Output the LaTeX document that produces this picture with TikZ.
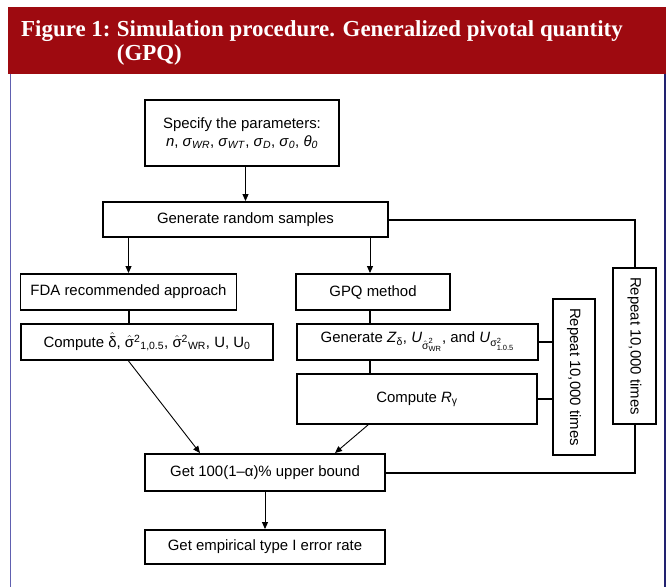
\documentclass[tikz,border=0pt]{standalone}
\usepackage{amsmath}
\usepackage{fontspec}
\setmainfont{Liberation Sans}
\newfontfamily\titlefont{Liberation Serif}
\usetikzlibrary{arrows.meta}
\definecolor{headred}{RGB}{158,10,16}
\definecolor{frameblue}{RGB}{96,96,176}
\definecolor{framenavy}{RGB}{34,34,112}
\newcommand{\boxfont}{\fontsize{15}{18}\selectfont}
\newcommand{\headfont}{\titlefont\bfseries\fontsize{23}{24}\selectfont}
\newcommand{\hatg}[1]{\ensuremath{\hat{\text{#1}}}}
\tikzset{
  box/.style 2 args={draw, line width=1.9bp, minimum width=#1bp, minimum height=#2bp, inner sep=0pt, font=\boxfont},
  link/.style={line width=2bp},
  arr/.style={->, line width=0.9bp},
  head/.style={text=white, inner sep=0pt, anchor=base west, font=\headfont}
}
\begin{document}
\begin{tikzpicture}[x=1bp, y=-1bp, >={Triangle[length=7bp,width=6bp]}, line join=miter]
\useasboundingbox (0,0) rectangle (669,587);
% header and frame
\fill[headred] (8,7) rectangle (666,74);
\draw[frameblue, line width=1.6bp] (10.5,74) -- (10.5,587);
\draw[framenavy, line width=1.6bp] (665,74) -- (665,587);
\node[head] (fignum) at (21,37) {Figure 1:};
\node[head] (figtitle) at ([xshift=6bp]fignum.base east) {Simulation procedure. Generalized pivotal quantity};
\node[head] (figtitle2) at ([yshift=-24bp]figtitle.base west) {(GPQ)};
% boxes
\node[box={194}{66}, align=center] (params) at (242,133) {Specify the parameters:\\
  \textit{n}, \textit{σ}\textsubscript{\textit{WR}}, \textit{σ}\textsubscript{\textit{WT}}, \textit{σ}\textsubscript{\textit{D}}, \textit{σ}\textsubscript{\textit{0}}, \textit{θ}\textsubscript{\textit{0}}};
\node[box={285}{35}] (gen) at (245.5,219.5) {Generate random samples};
\node[box={216}{36}] (fda) at (128.5,292) {FDA recommended approach};
\node[box={154}{36}] (gpq) at (373,292) {GPQ method};
\node[box={252}{36}] (comp) at (147,342) {Compute \hatg{δ}, \hatg{σ}\textsuperscript{2}\textsubscript{1,0.5}, \hatg{σ}\textsuperscript{2}\textsubscript{WR}, U, U\textsubscript{0}};
\node[box={241}{36}] (genz) at (417.5,342) {Generate \textit{Z}\textsubscript{δ}, \textit{U}$_{\hat{\text{σ}}^{\text{2}}_{\text{WR}}}$, and \textit{U}$_{\text{σ}^{\text{2}}_{\text{1.0.5}}}$};
\node[box={240}{50}] (compr) at (417,399) {Compute \textit{R}\textsubscript{γ}};
\node[box={156}{42}, rotate=-90] (rep1) at (574,377) {Repeat 10,000 times};
\node[box={156}{43}, rotate=-90] (rep2) at (634.5,346) {Repeat 10,000 times};
\node[box={240}{37}] (bound) at (265,472.5) {Get 100(1–α)\% upper bound};
\node[box={240}{34}] (rate) at (265,547) {Get empirical type I error rate};
% connectors
\draw[arr] (gen.north |- params.south) -- (gen.north);
\draw[arr] (gen.south -| fda) -- (fda.north);
\draw[arr] (gen.south -| 370,0) -- (370,0 |- gpq.north);
\draw[link] (gen.east) -| (rep2.west);
\draw[link] (rep2.east) |- (bound.east);
\draw[link] (fda.south) -- (fda.south |- comp.north);
\draw[link] (370,0 |- gpq.south) -- (370,0 |- genz.north);
\draw[link] (370,0 |- genz.south) -- (370,0 |- compr.north);
\draw[link] (genz.east) -- (genz.east -| rep1.south);
\draw[link] (compr.east) -- (compr.east -| rep1.south);
\draw[arr] (comp.south -| fda) -- ([xshift=-65bp]bound.north);
\draw[arr] ([xshift=-49bp]compr.south) -- ([xshift=70bp]bound.north);
\draw[arr] (bound) -- (rate);
\end{tikzpicture}
\end{document}
